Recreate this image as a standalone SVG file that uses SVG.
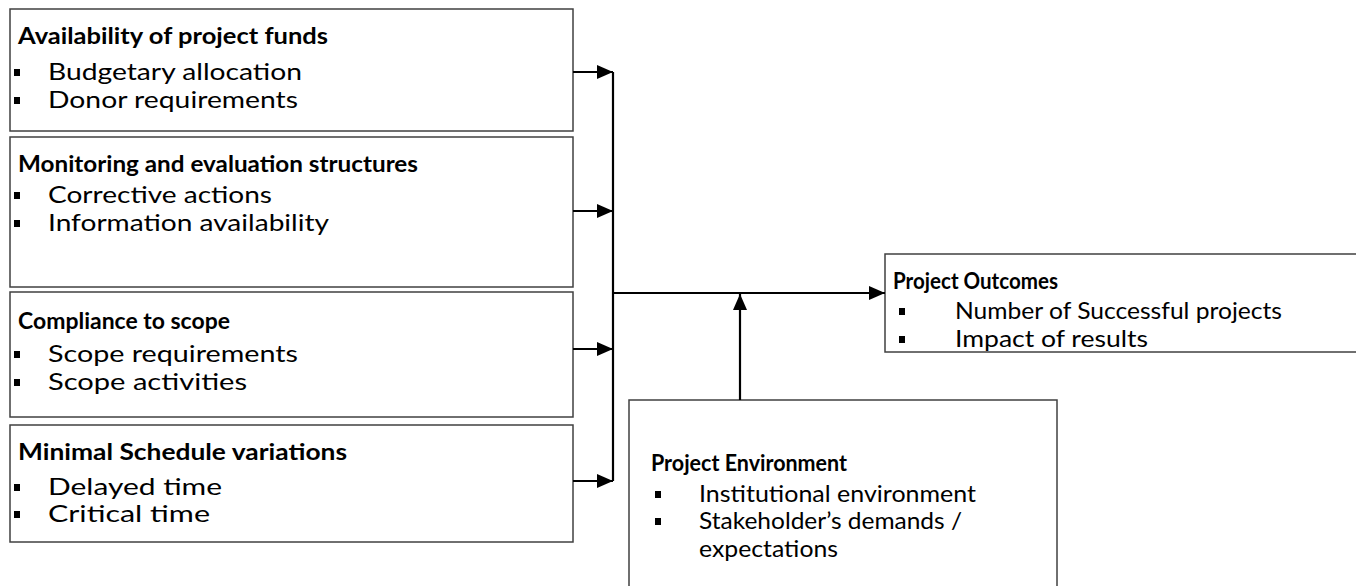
<svg xmlns="http://www.w3.org/2000/svg" width="1356" height="586" viewBox="0 0 1356 586">
<style>
.box{fill:#fff;stroke:#404040;stroke-width:1.5}
.t{font-family:Lato,"Open Sans","Liberation Sans",sans-serif;font-weight:bold;font-size:22px;fill:#000}
.i{font-family:Lato,"Open Sans","Liberation Sans",sans-serif;font-size:23px;fill:#000}
.b{fill:#000}
.c{stroke:#000;stroke-width:2.2;fill:none}
</style>
<defs>
<marker id="ah" markerWidth="16" markerHeight="14" refX="16" refY="7" orient="auto" markerUnits="userSpaceOnUse">
<path d="M0,0 L16,7 L0,14 Z" fill="#000"/>
</marker>
</defs>
<rect width="1356" height="586" fill="#fff"/>
<g id="n1">
<rect class="box" x="10" y="9" width="563" height="122"/>
<text class="t" x="18" y="44" textLength="310" lengthAdjust="spacingAndGlyphs">Availability of project funds</text>
<rect class="b" x="14" y="69" width="6" height="7"/>
<text class="i" x="48" y="80" textLength="254" lengthAdjust="spacingAndGlyphs">Budgetary allocation</text>
<rect class="b" x="14" y="97" width="6" height="7"/>
<text class="i" x="48" y="108" textLength="250" lengthAdjust="spacingAndGlyphs">Donor requirements</text>
</g>
<g id="n2">
<rect class="box" x="10" y="137" width="563" height="150"/>
<text class="t" x="18" y="172" textLength="400" lengthAdjust="spacingAndGlyphs">Monitoring and evaluation structures</text>
<rect class="b" x="14" y="192" width="6" height="7"/>
<text class="i" x="48" y="203" textLength="224" lengthAdjust="spacingAndGlyphs">Corrective actions</text>
<rect class="b" x="14" y="220" width="6" height="7"/>
<text class="i" x="48" y="231" textLength="281" lengthAdjust="spacingAndGlyphs">Information availability</text>
</g>
<g id="n3">
<rect class="box" x="10" y="292" width="563" height="125"/>
<text class="t" x="18" y="329" textLength="212" lengthAdjust="spacingAndGlyphs">Compliance to scope</text>
<rect class="b" x="14" y="351" width="6" height="7"/>
<text class="i" x="48" y="362" textLength="250" lengthAdjust="spacingAndGlyphs">Scope requirements</text>
<rect class="b" x="14" y="379" width="6" height="7"/>
<text class="i" x="48" y="390" textLength="199" lengthAdjust="spacingAndGlyphs">Scope activities</text>
</g>
<g id="n4">
<rect class="box" x="10" y="425" width="563" height="117"/>
<text class="t" x="18" y="460" textLength="329" lengthAdjust="spacingAndGlyphs">Minimal Schedule variations</text>
<rect class="b" x="14" y="484" width="6" height="7"/>
<text class="i" x="48" y="495" textLength="174" lengthAdjust="spacingAndGlyphs">Delayed time</text>
<rect class="b" x="14" y="511" width="6" height="7"/>
<text class="i" x="48" y="522" textLength="162" lengthAdjust="spacingAndGlyphs">Critical time</text>
</g>
<g id="n5">
<rect class="box" x="885" y="254" width="480" height="98"/>
<text class="t" x="893" y="289" textLength="165" lengthAdjust="spacingAndGlyphs">Project Outcomes</text>
<rect class="b" x="899" y="308" width="6" height="7"/>
<text class="i" x="955" y="319" textLength="327" lengthAdjust="spacingAndGlyphs">Number of Successful projects</text>
<rect class="b" x="899" y="336" width="6" height="7"/>
<text class="i" x="955" y="347" textLength="193" lengthAdjust="spacingAndGlyphs">Impact of results</text>
</g>
<g id="n6">
<rect class="box" x="629" y="400" width="428" height="200"/>
<text class="t" x="651" y="471" textLength="196" lengthAdjust="spacingAndGlyphs">Project Environment</text>
<rect class="b" x="655" y="491" width="6" height="7"/>
<text class="i" x="699" y="502" textLength="277" lengthAdjust="spacingAndGlyphs">Institutional environment</text>
<rect class="b" x="655" y="518" width="6" height="7"/>
<text class="i" x="699" y="529" textLength="263" lengthAdjust="spacingAndGlyphs">Stakeholder’s demands /</text>
<text class="i" x="699" y="557" textLength="139" lengthAdjust="spacingAndGlyphs">expectations</text>
</g>
<g id="connectors">
<line class="c" x1="613" y1="72" x2="613" y2="481"/>
<line class="c" x1="573" y1="72" x2="613" y2="72" marker-end="url(#ah)"/>
<line class="c" x1="573" y1="211" x2="613" y2="211" marker-end="url(#ah)"/>
<line class="c" x1="573" y1="349" x2="613" y2="349" marker-end="url(#ah)"/>
<line class="c" x1="573" y1="481" x2="613" y2="481" marker-end="url(#ah)"/>
<line class="c" x1="613" y1="293" x2="885" y2="293" marker-end="url(#ah)"/>
<line class="c" x1="740" y1="400" x2="740" y2="294" marker-end="url(#ah)"/>
</g>
</svg>
